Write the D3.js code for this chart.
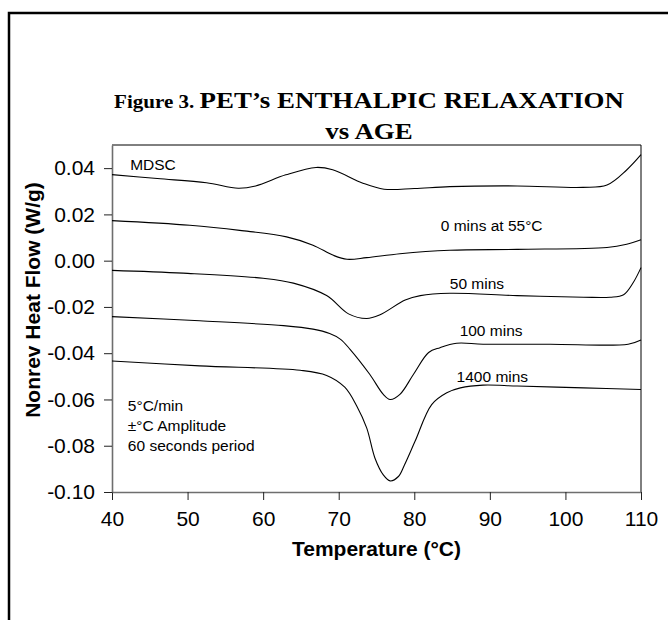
<!DOCTYPE html>
<html>
<head>
<meta charset="utf-8">
<script src="https://cdn.jsdelivr.net/npm/d3@7"></script>
<style>
  body { margin: 0; background: #fff; }
  svg text { font-family: "Liberation Sans", Arial, sans-serif; }
  .title { font-family: "Liberation Serif", "Times New Roman", serif; font-weight: bold; }
  .axis path { stroke: #6e6e6e; stroke-width: 1.6px; }
  .axis line { stroke: #222; }
  .axis text { font-size: 21px; fill: #000; }
  .trace { fill: none; stroke: #000; stroke-width: 1.1px; }
  .note { font-size: 15.5px; fill: #000; }
</style>
</head>
<body>
<svg id="chart" width="668" height="620"></svg>
<script>
// temperature (°C) / nonreversing heat flow (W/g)
const mdscTemp = [40, 46, 52.5, 56.7, 59, 63, 67, 69.2, 73.2, 76, 80, 84.7, 93.6, 102.3, 105.5, 108.1, 110]
const mdscFlow = [0.0372, 0.0355, 0.0337, 0.0313, 0.0323, 0.0371, 0.0403, 0.0393, 0.0335, 0.0309, 0.0312, 0.0320, 0.0323, 0.0317, 0.0327, 0.0392, 0.0458]

const age0Temp = [40, 50.3, 56.9, 63.1, 66.6, 69.3, 71.1, 73.7, 78.1, 84.7, 93.6, 105.5, 108.1, 110]
const age0Flow = [0.0173, 0.0153, 0.0131, 0.0103, 0.0067, 0.0023, 0.0006, 0.0013, 0.0030, 0.0045, 0.0049, 0.0057, 0.0071, 0.0090]

const age50Temp = [40, 49.4, 60, 64, 68.4, 71.3, 73.7, 75.4, 78.8, 80.8, 84.7, 93.6, 102.4, 105.9, 107.7, 109, 110]
const age50Flow = [-0.0042, -0.0054, -0.0076, -0.0097, -0.0151, -0.0230, -0.0250, -0.0235, -0.0170, -0.0151, -0.0141, -0.0151, -0.0158, -0.0158, -0.0147, -0.0093, -0.0030]

const age100Temp = [40, 51.6, 62.7, 66.6, 68.8, 70.2, 71.5, 74.1, 75.9, 76.8, 78.1, 79.9, 81.9, 83.4, 85.6, 89.1, 98, 108.3, 110]
const age100Flow = [-0.0242, -0.0260, -0.0281, -0.0296, -0.0315, -0.0339, -0.0383, -0.0491, -0.0578, -0.0600, -0.0578, -0.0491, -0.0397, -0.0376, -0.0357, -0.0361, -0.0361, -0.0361, -0.0343]

const age1400Temp = [40, 51.6, 64.9, 68.4, 70.8, 72.4, 73.7, 74.8, 75.9, 76.8, 77.9, 78.7, 80.1, 82.3, 84.3, 86.1, 89.1, 93.6, 102.4, 110]
const age1400Flow = [-0.0434, -0.0455, -0.0474, -0.0496, -0.0547, -0.0629, -0.0723, -0.0854, -0.0926, -0.0952, -0.0933, -0.0883, -0.0781, -0.0622, -0.0571, -0.0550, -0.0538, -0.0542, -0.0550, -0.0557]

const xTicks = [40, 50, 60, 70, 80, 90, 100, 110]
const yTicks = [-0.10, -0.08, -0.06, -0.04, -0.02, 0.00, 0.02, 0.04]

// labels: text, temp, flow (anchor at baseline start)
const labelText = ['MDSC', '0 mins at 55°C', '50 mins', '100 mins', '1400 mins']
const labelTemp = [42.4, 83.5, 84.7, 86.0, 85.6]
const labelFlow = [0.0393, 0.0127, -0.0121, -0.0325, -0.0525]

const noteText = ['5°C/min', '±°C Amplitude', '60 seconds period']
const noteFlow = [-0.0650, -0.0738, -0.0821]

const series = [
  [mdscTemp, mdscFlow],
  [age0Temp, age0Flow],
  [age50Temp, age50Flow],
  [age100Temp, age100Flow],
  [age1400Temp, age1400Flow]
].map(([t, f]) => t.map((d, i) => ({t: d, f: f[i]})))

const svg = d3.select('#chart')

// outer frame (runs off the right / bottom of the picture)
svg.append('rect').attr('x', 9).attr('y', 13).attr('width', 720).attr('height', 700)
  .attr('fill', 'none').attr('stroke', '#000').attr('stroke-width', 2.5)

const margin = {left: 112, right: 27, top: 145, bottom: 128}
const width = 668 - margin.left - margin.right
const height = 620 - margin.top - margin.bottom

const x = d3.scaleLinear().domain([40, 110]).range([0, width])
const y = d3.scaleLinear().domain([-0.10, 0.05]).range([height, 0])

const g = svg.append('g').attr('transform', `translate(${margin.left},${margin.top})`)

// top and right frame of the plot
g.append('path').attr('d', `M0,0H${width}V${height}`).attr('fill', 'none').attr('stroke', '#000').attr('stroke-width', 1)

g.append('g').attr('class', 'axis').attr('transform', `translate(0,${height})`)
  .call(d3.axisBottom(x).tickValues(xTicks).tickSize(8).tickSizeOuter(0).tickPadding(11).tickFormat(d3.format('d')))
g.append('g').attr('class', 'axis')
  .call(d3.axisLeft(y).tickValues(yTicks).tickSize(8).tickSizeOuter(0).tickPadding(9).tickFormat(d3.format('.2f')))
g.selectAll('.axis text').text(function(){ return this.textContent.replace('−', '-') })

const line = d3.line().x(d => x(d.t)).y(d => y(d.f)).curve(d3.curveCatmullRom.alpha(0.5))
g.selectAll('.trace').data(series).join('path').attr('class', 'trace').attr('d', line)

g.selectAll('.lbl').data(labelText).join('text').attr('class', 'note')
  .attr('x', (d, i) => x(labelTemp[i])).attr('y', (d, i) => y(labelFlow[i])).text(d => d)

g.selectAll('.nt').data(noteText).join('text').attr('class', 'note')
  .attr('x', x(42.1)).attr('y', (d, i) => y(noteFlow[i])).text(d => d)

// titles (the original type is a bit wider than it is tall)
const title = svg.append('text').attr('class', 'title').attr('text-anchor', 'middle')
  .attr('transform', 'translate(369,108) scale(1.17,1)')
title.append('tspan').attr('font-size', 18).text('Figure 3. ')
title.append('tspan').attr('font-size', 23).text('PET’s ENTHALPIC RELAXATION')
svg.append('text').attr('class', 'title').attr('text-anchor', 'middle')
  .attr('transform', 'translate(369,139) scale(1.17,1)').attr('font-size', 23).text('vs AGE')

svg.append('text').attr('x', margin.left + width / 2).attr('y', 556).attr('text-anchor', 'middle')
  .attr('font-size', 21).attr('font-weight', 'bold').text('Temperature (°C)')
svg.append('text').attr('transform', 'translate(40,300) rotate(-90)').attr('text-anchor', 'middle')
  .attr('font-size', 21).attr('font-weight', 'bold').text('Nonrev Heat Flow (W/g)')
</script>
</body>
</html>
